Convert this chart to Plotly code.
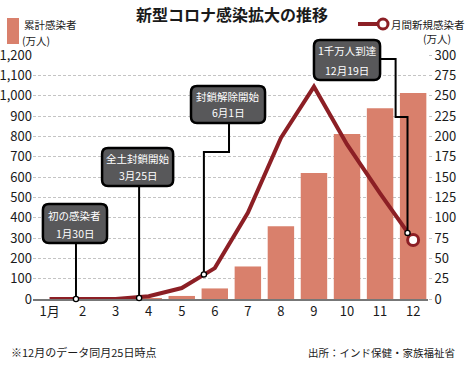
import plotly.graph_objects as go

# ---------------- data ----------------
months = list(range(1, 13))
month_labels = ["1月", "2", "3", "4", "5", "6", "7", "8", "9", "10", "11", "12"]
cumulative = [0, 0, 0.1, 3.5, 15, 52, 160, 358, 620, 812, 938, 1013]        # 万人 (left axis)
monthly_new = [0, 0, 0.1, 3.5, 13.5, 38, 106, 198, 261, 190, 130, 72.5]     # 万人 (right axis)
left_ticks = list(range(0, 1201, 100))
right_ticks = list(range(0, 301, 25))

# callouts: (label lines, box [x0,x1,y0,y1] in axis units, leader path in axis units)
callout_labels = [("初の感染者", "1月30日"), ("全土封鎖開始", "3月25日"),
                  ("封鎖解除開始", "6月1日"), ("1千万人到達", "12月19日")]
callout_boxes = [(0.80, 2.74, 275, 467), (2.59, 4.74, 556, 743),
                 (5.28, 7.52, 866, 1048), (9.0, 11.0, 1077, 1274)]
callout_paths = [[(1.80, 275), (1.80, 0)],
                 [(3.71, 556), (3.71, 5)],
                 [(6.43, 866), (6.43, 723), (5.67, 723), (5.67, 121)],
                 [(11.0, 1180), (11.47, 1180), (11.47, 895), (11.83, 895), (11.83, 325)]]

# ---------------- layout geometry ----------------
W, H = 465, 366
ML, MR, MT, MB = 33, 37, 55, 67
PW, PH = W - ML - MR, H - MT - MB
XR = [0.5, 12.45]
YR = [0, 1200]
Y2R = [0, 300]

BAR = "#d9806c"
RED = "#8c1f25"
FONT = "Liberation Sans Narrow, Noto Sans CJK JP, sans-serif"
JP = "Noto Sans CJK JP, sans-serif"


def dx(m):
    return (m - XR[0]) / (XR[1] - XR[0])


def dy(v):
    return (v - YR[0]) / (YR[1] - YR[0])


def pxp(x):
    return (x - ML) / PW


def pyp(y):
    return (H - MB - y) / PH


fig = go.Figure()
fig.add_trace(go.Bar(x=months, y=cumulative, marker_color=BAR, marker_line_width=0,
                     width=0.8, showlegend=False))
fig.add_trace(go.Scatter(x=months, y=monthly_new, yaxis="y2", mode="lines",
                         line=dict(color=RED, width=4), showlegend=False))
fig.add_trace(go.Scatter(x=[months[-1]], y=[monthly_new[-1]], yaxis="y2", mode="markers",
                         marker=dict(size=11, color="white", line=dict(color=RED, width=3)),
                         showlegend=False))

shapes = []
annotations = []


def rrect(x0, x1, y0, y1, r=6):
    rx, ry = r / PW, r / PH
    return (f"M{x0+rx},{y0} L{x1-rx},{y0} Q{x1},{y0} {x1},{y0+ry} L{x1},{y1-ry} "
            f"Q{x1},{y1} {x1-rx},{y1} L{x0+rx},{y1} Q{x0},{y1} {x0},{y1-ry} "
            f"L{x0},{y0+ry} Q{x0},{y0} {x0+rx},{y0} Z")


for lines, box, path in zip(callout_labels, callout_boxes, callout_paths):
    pts = [(dx(m), dy(v)) for m, v in path]
    d = "M" + " L".join(f"{a},{b}" for a, b in pts)
    shapes.append(dict(type="path", xref="paper", yref="paper", path=d,
                       line=dict(color="black", width=2)))
    ex, ey = pts[-1]
    r = 2.6
    shapes.append(dict(type="circle", xref="paper", yref="paper",
                       x0=ex - r / PW, x1=ex + r / PW, y0=ey - r / PH, y1=ey + r / PH,
                       fillcolor="white", line=dict(color="black", width=1.3)))
    x0, x1, y0, y1 = dx(box[0]), dx(box[1]), dy(box[2]), dy(box[3])
    shapes.append(dict(type="path", xref="paper", yref="paper", path=rrect(x0, x1, y0, y1),
                       fillcolor="#58585a", line=dict(color="black", width=2.5)))
    xc = (x0 + x1) / 2
    annotations.append(dict(x=xc, y=y1 - 11 / PH, xref="paper", yref="paper", text=lines[0],
                            showarrow=False, font=dict(family=JP, size=10.5, color="white"),
                            xanchor="center", yanchor="middle"))
    annotations.append(dict(x=xc, y=y0 + 10 / PH, xref="paper", yref="paper", text=lines[1],
                            showarrow=False, font=dict(family=JP, size=10.5, color="white"),
                            xanchor="center", yanchor="middle"))

# legends
shapes.append(dict(type="rect", xref="paper", yref="paper", x0=pxp(7), x1=pxp(19),
                   y0=pyp(44), y1=pyp(18), fillcolor=BAR, line=dict(width=0)))
annotations.append(dict(x=pxp(22), y=pyp(25), xref="paper", yref="paper", text="累計感染者",
                        showarrow=False, xanchor="left", yanchor="middle",
                        font=dict(family=JP, size=10.5, color="#1a1a1a")))
annotations.append(dict(x=pxp(20), y=pyp(40), xref="paper", yref="paper", text="(万人)",
                        showarrow=False, xanchor="left", yanchor="middle",
                        font=dict(family=JP, size=10.5, color="#1a1a1a")))
shapes.append(dict(type="line", xref="paper", yref="paper", x0=pxp(358), x1=pxp(379),
                   y0=pyp(24), y1=pyp(24), line=dict(color=RED, width=4)))
shapes.append(dict(type="circle", xref="paper", yref="paper", x0=pxp(378), x1=pxp(388),
                   y0=pyp(29), y1=pyp(19), fillcolor="white", line=dict(color=RED, width=3)))
annotations.append(dict(x=pxp(389), y=pyp(24), xref="paper", yref="paper", text="月間新規感染者",
                        showarrow=False, xanchor="left", yanchor="middle",
                        font=dict(family=JP, size=10.5, color="#1a1a1a")))
annotations.append(dict(x=pxp(453), y=pyp(39), xref="paper", yref="paper", text="(万人)",
                        showarrow=False, xanchor="right", yanchor="middle",
                        font=dict(family=JP, size=10.5, color="#1a1a1a")))
# title & footer
annotations.append(dict(x=pxp(232), y=pyp(14), xref="paper", yref="paper",
                        text="新型コロナ感染拡大の推移", showarrow=False,
                        xanchor="center", yanchor="middle",
                        font=dict(family=JP, size=16, color="#1a1a1a", weight="bold")))
annotations.append(dict(x=pxp(9), y=pyp(352), xref="paper", yref="paper",
                        text="※12月のデータ同月25日時点", showarrow=False,
                        xanchor="left", yanchor="middle", font=dict(family=JP, size=11, color="#1a1a1a")))
annotations.append(dict(x=pxp(457), y=pyp(352), xref="paper", yref="paper",
                        text="出所：インド保健・家族福祉省", showarrow=False,
                        xanchor="right", yanchor="middle", font=dict(family=JP, size=10.5, color="#1a1a1a")))

fig.update_layout(
    width=W, height=H, margin=dict(l=ML, r=MR, t=MT, b=MB, autoexpand=False),
    paper_bgcolor="white", plot_bgcolor="white",
    font=dict(family=FONT, size=13, color="#1a1a1a"),
    bargap=0.2,
    xaxis=dict(range=XR, tickmode="array", tickvals=months, ticktext=month_labels,
               showgrid=False, showline=True, linecolor="#777", linewidth=1.5,
               ticks="", zeroline=False, fixedrange=True, automargin=False),
    yaxis=dict(range=YR, tickvals=left_ticks, tickformat=",", showgrid=True,
               gridcolor="#c4c4c4", griddash="3px,2px", gridwidth=1, zeroline=False,
               ticks="", showline=False, automargin=False),
    yaxis2=dict(range=Y2R, tickvals=right_ticks, overlaying="y", side="right",
                showgrid=False, zeroline=False, ticks="outside", ticklen=3,
                tickcolor="#c4c4c4", showline=False, automargin=False),
    shapes=shapes, annotations=annotations, showlegend=False,
)

fig.write_html("out.html", config={"displayModeBar": False},
               post_script="document.body.style.margin='0';")
